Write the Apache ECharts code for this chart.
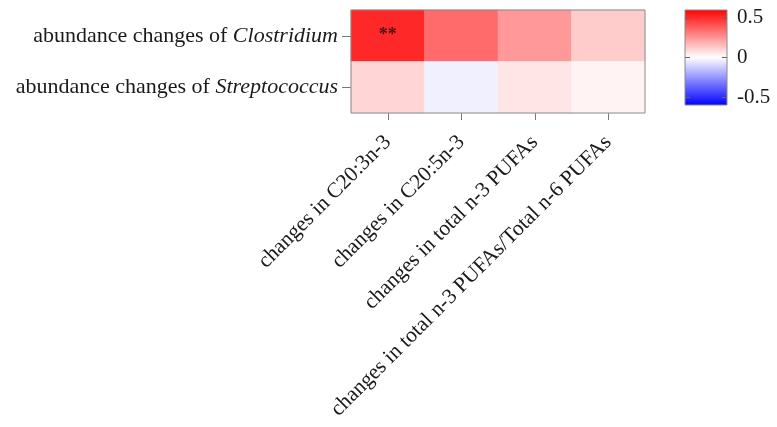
<!DOCTYPE html>
<html>
<head>
<meta charset="utf-8">
<script src="https://cdn.jsdelivr.net/npm/echarts@6/dist/echarts.min.js"></script>
<style>html,body{margin:0;padding:0;background:#fff}#chart{width:777px;height:427px}</style>
</head>
<body>
<div id="chart"></div>
<script>
// Correlation heatmap: genus abundance changes vs. PUFA changes
const fattyAcids = [
  'changes in C20:3n-3',
  'changes in C20:5n-3',
  'changes in total n-3 PUFAs',
  'changes in total n-3 PUFAs/Total n-6 PUFAs'
];
const genera = ['Clostridium', 'Streptococcus'];
const clostridiumR = [0.506, 0.348, 0.24, 0.12];
const streptococcusR = [0.099, -0.035, 0.061, 0.028];
const significance = [['**', '', '', ''], ['', '', '', '']];
const scaleMin = -0.6, scaleMax = 0.6;
const tickMin = -0.5, tickMax = 0.5, tickStep = 0.5;
const scaleColors = ['#0000ff', '#ffffff', '#ff0000'];

const rows = [clostridiumR, streptococcusR];
const cells = [];
rows.forEach((vals, r) => vals.forEach((v, c) => cells.push([c, r, v, significance[r][c]])));

// colour key: gradient box, plus an inner axis grid covering only the ticked range
const keyTop = 10, keyHeight = 95, keyLeft = 685, keyWidth = 42;
const pxPerUnit = keyHeight / (scaleMax - scaleMin);
const tickGridTop = keyTop + (scaleMax - tickMax) * pxPerUnit;
const tickGridHeight = (tickMax - tickMin) * pxPerUnit;
const keyGradient = new echarts.graphic.LinearGradient(0, 0, 0, 1, [
  { offset: 0, color: scaleColors[2] },
  { offset: 0.5, color: scaleColors[1] },
  { offset: 1, color: scaleColors[0] }
]);

const serif = '"Liberation Serif", "DejaVu Serif", serif';
const keyTickAxis = (pos, labels) => ({
  type: 'value', gridIndex: 2, min: tickMin, max: tickMax, interval: tickStep, position: pos, z: 10,
  axisLine: { show: false, onZero: false },
  axisTick: { show: true, inside: true, length: 5, lineStyle: { color: '#666' } },
  axisLabel: { show: labels, margin: 10, color: '#1a1a1a', fontFamily: serif, fontSize: 21, formatter: v => String(v) },
  splitLine: { show: false }
});

const chart = echarts.init(document.getElementById('chart'));
chart.setOption({
  backgroundColor: '#fff',
  animation: false,
  grid: [
    { left: 351, top: 10, width: 294, height: 103, show: true, borderColor: '#8a8a8a', borderWidth: 1, backgroundColor: 'transparent', z: 5 },
    { left: keyLeft, top: keyTop, width: keyWidth, height: keyHeight, show: true, borderColor: '#8a8a8a', borderWidth: 1, backgroundColor: keyGradient, z: 0 },
    { left: keyLeft, top: tickGridTop, width: keyWidth, height: tickGridHeight, show: false }
  ],
  xAxis: [
    {
      type: 'category', gridIndex: 0, data: fattyAcids, position: 'bottom',
      axisLine: { show: false },
      axisTick: { show: true, alignWithLabel: true, length: 7, lineStyle: { color: '#777' } },
      axisLabel: { rotate: 45, margin: 26, interval: 0, color: '#1a1a1a', fontFamily: serif, fontSize: 21.5 },
      splitLine: { show: false }
    },
    { type: 'value', gridIndex: 1, show: false },
    { type: 'value', gridIndex: 2, show: false, min: 0, max: 1 }
  ],
  yAxis: [
    {
      type: 'category', gridIndex: 0, data: genera, inverse: true,
      axisLine: { show: false },
      axisTick: { show: true, alignWithLabel: true, length: 9, lineStyle: { color: '#777' } },
      axisLabel: {
        margin: 13, color: '#1a1a1a', fontFamily: serif, fontSize: 22,
        formatter: g => 'abundance changes of {i|' + g + '}',
        rich: { i: { fontStyle: 'italic', fontFamily: serif, fontSize: 22, color: '#1a1a1a' } }
      }
    },
    { type: 'value', gridIndex: 1, show: false },
    keyTickAxis('right', true),
    keyTickAxis('left', false)
  ],
  visualMap: {
    type: 'continuous', show: false, min: scaleMin, max: scaleMax, seriesIndex: 0, dimension: 2,
    inRange: { color: scaleColors }
  },
  series: [{
    type: 'heatmap', xAxisIndex: 0, yAxisIndex: 0, data: cells,
    itemStyle: { borderWidth: 0 },
    label: {
      show: true, formatter: p => p.data[3], color: '#4a1414',
      fontFamily: serif, fontSize: 18, fontWeight: 'bold'
    },
    emphasis: { disabled: true }
  }]
});
</script>
</body>
</html>
